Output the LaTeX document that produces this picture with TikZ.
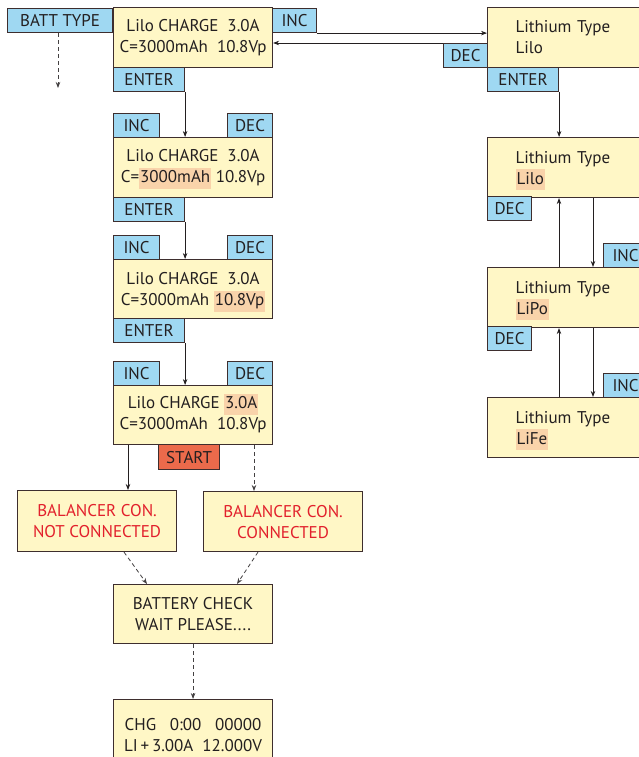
\documentclass[tikz,border=0pt]{standalone}
\usepackage{fontspec}
\setmainfont{PT Sans}
\usepackage{tikz}
\usetikzlibrary{arrows.meta,calc}
\definecolor{lcdink}{HTML}{231F20}
\definecolor{lcdline}{HTML}{3E2E2E}
\definecolor{lcdfill}{HTML}{FFF7C6}
\definecolor{keyfill}{HTML}{9FD8F2}
\definecolor{keystart}{HTML}{EB6A4B}
\definecolor{lcdmark}{HTML}{F9D3AA}
\definecolor{lcdred}{HTML}{E2202C}
\newcommand{\lcdhl}[1]{\smash{\setlength{\fboxsep}{0pt}\colorbox{lcdmark}{\strut\kern1pt#1\kern1pt}}}

\begin{document}
\begin{tikzpicture}[x=1pt,y=-1pt,>={Stealth[length=6pt,width=4.5pt]},
  font=\fontsize{17}{21}\selectfont,text=lcdink,
  lcd/.style={draw=lcdline,line width=1.1pt,fill=lcdfill,anchor=north west,
    minimum width=159,minimum height=60,inner sep=0pt,align=center},
  lith/.style={lcd,text width=118pt,inner xsep=28pt,align=left},
  key/.style={draw=lcdline,line width=1.1pt,fill=keyfill,anchor=north west,
    minimum width=44,minimum height=24,inner sep=0pt},
  flow/.style={->,lcdink,line width=.8pt},
  maybe/.style={->,lcdink!85,line width=.8pt,dash pattern=on 4pt off 3pt}]
\path[use as bounding box] (0,0) rectangle (638,757);
\fill[white] (0,0) rectangle (638,757);
% Hauptmenue oben links
\node[key,minimum width=105] (batt) at (7,8) {BATT TYPE};
\node[lcd] (chg1) at (113,7) {Lilo CHARGE~~3.0A\\C=3000mAh~~10.8Vp};
\node[key] (inc1) at (272,8) {INC};
\node[key,minimum width=71] (ent1) at (113,67) {ENTER};
\coordinate (bdown) at (58,88);
\draw[maybe] (batt.south -| bdown) -- (bdown);
% Akkutyp rechts
\node[lith] (lith1) at (487,7) {Lithium Type\\Lilo};
\node[key] (dec0) at (443,43) {DEC};
\node[key,minimum width=71] (entr) at (487,67) {ENTER};
\draw[flow] (inc1.south east) -- (inc1.south east -| lith1.west);
\draw[flow] (dec0.north west) -- (dec0.north west -| chg1.east);
\node[lith] (lith2) at (487,137) {Lithium Type\\\lcdhl{Lilo}};
\node[lith] (lith3) at (487,267) {Lithium Type\\\lcdhl{LiPo}};
\node[lith] (lith4) at (487,397) {Lithium Type\\\lcdhl{LiFe}};
\node[key] (dec1) at (487,196) {DEC};
\node[key] (dec2) at (487,326) {DEC};
\node[key] (inc2) at (603,243) {INC};
\node[key] (inc3) at (603,373) {INC};
\draw[flow] (entr.south east) -- (entr.south east |- lith2.north);
\coordinate (upx) at (559,0);
\coordinate (dnx) at (593,0);
\draw[flow] (upx |- lith3.north) -- (upx |- lith2.south);
\draw[flow] (dnx |- lith2.south) -- (dnx |- lith3.north);
\draw[flow] (upx |- lith4.north) -- (upx |- lith3.south);
\draw[flow] (dnx |- lith3.south) -- (dnx |- lith4.north);
% Kapazitaet, Spannung, Strom
\node[key,minimum width=46] (inc4) at (113,113) {INC};
\node[key,minimum width=45] (dec4) at (227,113) {DEC};
\node[lcd] (chg2) at (113,137) {Lilo CHARGE~~3.0A\\C=\lcdhl{3000mAh}~10.8Vp};
\node[key,minimum width=71] (ent2) at (113,197) {ENTER};
\node[key,minimum width=46] (inc5) at (113,235) {INC};
\node[key,minimum width=45] (dec5) at (227,235) {DEC};
\node[lcd,minimum height=59] (chg3) at (113,259) {Lilo CHARGE~~3.0A\\C=3000mAh~\lcdhl{10.8Vp}};
\node[key,minimum width=71] (ent3) at (113,318) {ENTER};
\node[key,minimum width=46] (inc6) at (113,361) {INC};
\node[key,minimum width=45] (dec6) at (227,361) {DEC};
\node[lcd,minimum height=59] (chg4) at (113,385) {Lilo CHARGE~\lcdhl{3.0A}\\C=3000mAh~~10.8Vp};
\node[key,fill=keystart,minimum width=61,minimum height=25] (start) at (158,444) {START};
\draw[flow] (ent1.south east) -- (ent1.south east |- chg2.north);
\draw[flow] (ent2.south east) -- (ent2.south east |- chg3.north);
\draw[flow] (ent3.south east) -- (ent3.south east |- chg4.north);
% Balancer-Abfrage
\node[lcd,text=lcdred,minimum height=61] (nocon) at (17,490) {BALANCER CON.\\NOT CONNECTED};
\node[lcd,text=lcdred,minimum height=60] (con) at (203,491) {BALANCER CON.\\CONNECTED};
\coordinate (solx) at (128,0);
\coordinate (dshx) at (254,0);
\draw[flow] (solx |- chg4.south) -- (solx |- nocon.north);
\draw[maybe] (dshx |- chg4.south) -- (dshx |- con.north);
\node[lcd,minimum height=59] (check) at (113,584) {BATTERY CHECK\\WAIT PLEASE....};
\draw[maybe] ($(nocon.south west)+(107,0)$) -- ($(check.north west)+(34,0)$);
\draw[maybe] ($(con.south west)+(55,0)$) -- ($(check.north west)+(124,0)$);
\node[lcd,minimum height=70] (run) at (113,699) {CHG~~~0:00~~~00000\\LI\,+\,3.00A~~12.000V};
\draw[maybe] (check.south) -- (run.north);
\end{tikzpicture}
\end{document}
